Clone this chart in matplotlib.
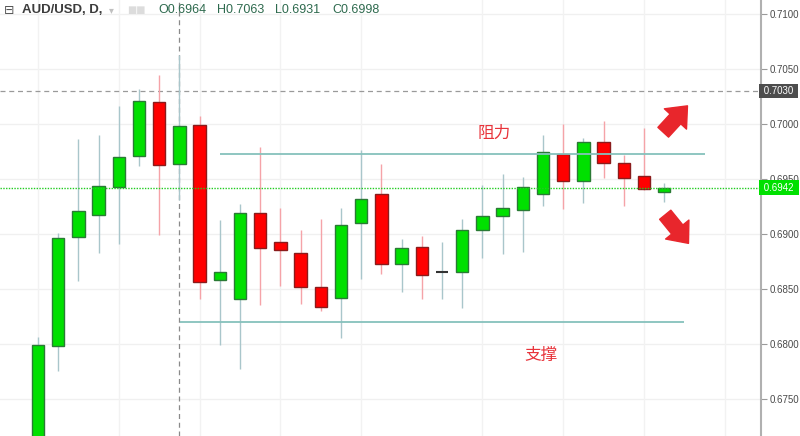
import numpy as np
import matplotlib
matplotlib.use('Agg')
import matplotlib.pyplot as plt

plt.rcParams['font.family'] = ['Liberation Sans', 'Noto Sans CJK SC', 'DejaVu Sans']

# daily AUD/USD candles
opens  = [0.6700, 0.6798, 0.6897, 0.6917, 0.6943, 0.6971, 0.7020, 0.6964,
          0.6999, 0.6858, 0.6841, 0.6919, 0.6893, 0.6883, 0.6852, 0.6842,
          0.6910, 0.6936, 0.6873, 0.6888, 0.6865, 0.6865, 0.6904, 0.6916,
          0.6922, 0.6936, 0.6973, 0.6948, 0.6984, 0.6965, 0.6953, 0.6938]
highs  = [0.6806, 0.6901, 0.6986, 0.6990, 0.7016, 0.7032, 0.7045, 0.7063,
          0.7007, 0.6913, 0.6927, 0.6979, 0.6924, 0.6904, 0.6914, 0.6924,
          0.6976, 0.6964, 0.6895, 0.6898, 0.6893, 0.6914, 0.6945, 0.6955,
          0.6952, 0.6990, 0.7000, 0.6987, 0.7003, 0.6972, 0.6996, 0.6946]
lows   = [0.6690, 0.6775, 0.6857, 0.6883, 0.6891, 0.6962, 0.6899, 0.6931,
          0.6841, 0.6799, 0.6777, 0.6835, 0.6853, 0.6836, 0.6830, 0.6805,
          0.6859, 0.6864, 0.6847, 0.6841, 0.6841, 0.6833, 0.6878, 0.6882,
          0.6884, 0.6925, 0.6923, 0.6928, 0.6951, 0.6925, 0.6940, 0.6929]
closes = [0.6799, 0.6896, 0.6921, 0.6944, 0.6970, 0.7021, 0.6963, 0.6998,
          0.6856, 0.6865, 0.6919, 0.6887, 0.6885, 0.6852, 0.6834, 0.6908,
          0.6932, 0.6873, 0.6887, 0.6863, 0.6865, 0.6904, 0.6916, 0.6924,
          0.6943, 0.6975, 0.6948, 0.6984, 0.6965, 0.6951, 0.6941, 0.6942]

price_ticks = [0.6750, 0.6800, 0.6850, 0.6900, 0.6950, 0.7000, 0.7050, 0.7100]
vgrid_idx = [0, 4, 8, 12, 16, 22, 26, 30, 34]
resistance = 0.6973
support = 0.6820
marked_level = 0.7030
last_price = 0.6942
cursor_idx = 7
header = [('O', '0.6964'), ('H', '0.7063'), ('L', '0.6931'), ('C', '0.6998')]

fig = plt.figure(figsize=(8.0, 4.36), dpi=100)
ax = fig.add_axes([0, 0, 761 / 800, 1])

x = np.arange(len(opens))
o = np.array(opens); h = np.array(highs); l = np.array(lows); c = np.array(closes)
up = c > o
down = c < o
flat = c == o

# grid
for yv in price_ticks:
    ax.axhline(yv, color='#f0f0f0', lw=1, zorder=0)
for xv in vgrid_idx:
    ax.axvline(xv, color='#f2f2f2', lw=1, zorder=0)

# wicks
ax.vlines(x[up | flat], l[up | flat], h[up | flat], color='#a9c6cb', lw=1, zorder=2)
ax.vlines(x[down], l[down], h[down], color='#f5a3a8', lw=1, zorder=2)

# bodies
w = 0.62
ax.bar(x[up], c[up] - o[up], bottom=o[up], width=w, color='#00e000',
       edgecolor='#2a7a35', linewidth=1, zorder=3)
ax.bar(x[down], o[down] - c[down], bottom=c[down], width=w, color='#ff0000',
       edgecolor='#8a1c1c', linewidth=1, zorder=3)
ax.hlines(c[flat], x[flat] - w / 2, x[flat] + w / 2, color='#333333', lw=1.5, zorder=3)

# support / resistance
ax.hlines(resistance, 9.0, 33.0, color='#86c1bc', lw=1.3, zorder=4)
ax.hlines(support, 7.05, 32.0, color='#86c1bc', lw=1.3, zorder=4)

# marked level, last price, crosshair
ax.axhline(marked_level, color='#9a9a9a', lw=0.9, ls=(0, (4, 3)), zorder=1)
ax.axhline(last_price, color='#22cc22', lw=1, ls=(0, (1, 1)), zorder=5)
ax.axvline(cursor_idx, color='#8a8a8a', lw=0.9, ls=(0, (4, 3)), zorder=1)

# labels
ax.text(22.6, 0.69918, '阻力', color='#e8333a', fontsize=12, ha='center', va='center',
        family=['Noto Sans CJK SC'])
ax.text(24.9, 0.67900, '支撑', color='#e8333a', fontsize=12, ha='center', va='center',
        family=['Noto Sans CJK SC'])

# arrows
arrow_kw = dict(arrowstyle='simple,head_length=0.8,head_width=1.35,tail_width=0.65',
                color='#e8262c', shrinkA=0, shrinkB=0, mutation_scale=16)
ax.annotate('', xy=(32.15, 0.70165), xytext=(30.95, 0.69925), arrowprops=arrow_kw, zorder=6)
ax.annotate('', xy=(32.2, 0.68915), xytext=(31.05, 0.69175), arrowprops=arrow_kw, zorder=6)

ax.set_xlim(-1.88, 35.79)
ax.set_ylim(0.671636, 0.711273)

# right price scale
ax.yaxis.tick_right()
ax.set_yticks(price_ticks)
ax.set_yticklabels(['%.4f' % v for v in price_ticks])
ax.tick_params(axis='y', length=4, width=0.8, color='#9a9a9a', labelsize=7,
               labelcolor='#4a4a4a', pad=2)
ax.set_xticks([])
for s in ['top', 'left', 'bottom']:
    ax.spines[s].set_visible(False)
ax.spines['right'].set_color('#b0b0b0')
ax.spines['right'].set_linewidth(1.5)

box_kw = dict(fontsize=7, va='center', ha='left', transform=ax.get_yaxis_transform(),
              clip_on=False)
ax.text(1.0, marked_level, ' 0.7030 ', color='white',
        bbox=dict(boxstyle='square,pad=0.25', fc='#4d4d4d', ec='none'), **box_kw)
ax.text(1.0, last_price, ' 0.6942 ', color='white',
        bbox=dict(boxstyle='square,pad=0.25', fc='#00e000', ec='none'), **box_kw)

# header
ty = 1 - 10 / 436
fig.text(4 / 800, ty, '⊟', fontsize=9, color='#555555', va='center', family=['DejaVu Sans'])
fig.text(22 / 800, ty, 'AUD/USD, D,', fontsize=9.5, fontweight='bold', color='#3c3c3c', va='center')
fig.text(109 / 800, ty, '▾', fontsize=7, color='#c0c0c0', va='center', family=['DejaVu Sans'])
fig.text(127 / 800, ty, '■■', fontsize=7, color='#dcdcdc', va='center', family=['DejaVu Sans'])
hx = [158, 217, 275, 332]
for (k, v), px in zip(header, hx):
    fig.text(px / 800, ty, k + v, fontsize=9, color='#2e6a4e', va='center')

fig.savefig('out.png', dpi=100, facecolor='white')
